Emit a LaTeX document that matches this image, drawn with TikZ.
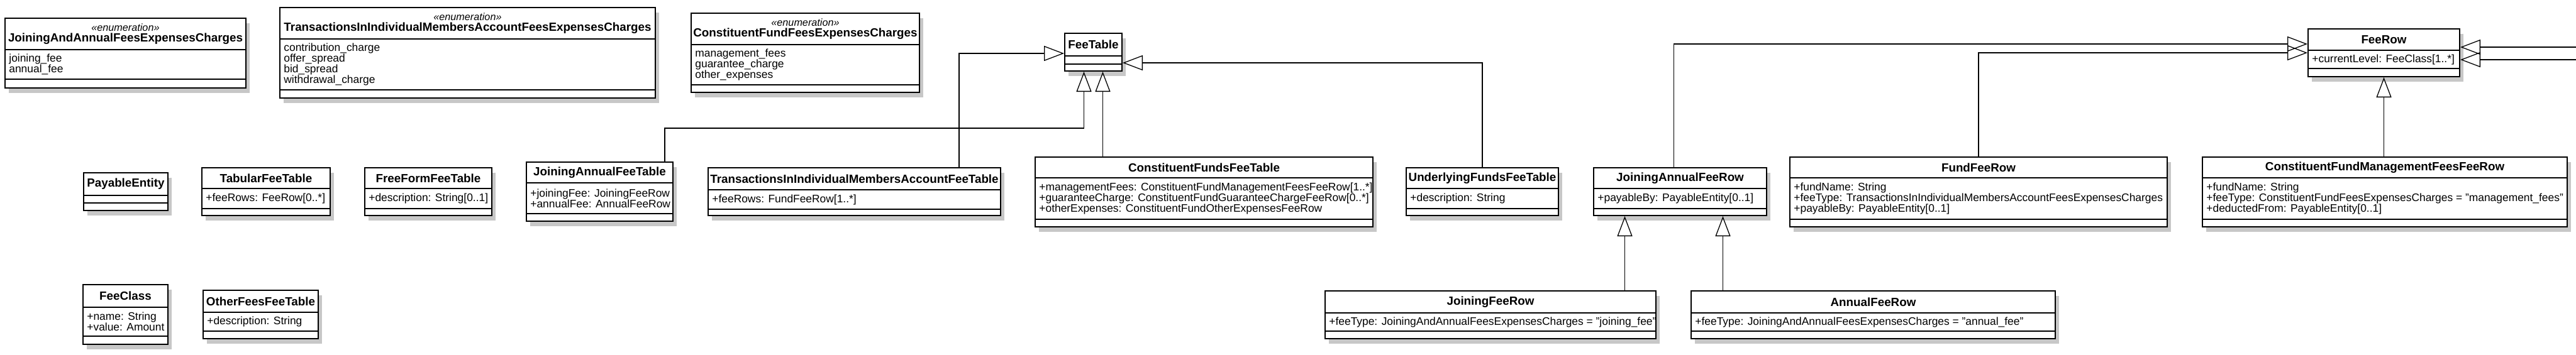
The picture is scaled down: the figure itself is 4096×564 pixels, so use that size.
\documentclass[tikz,border=0pt]{standalone}
\usepackage{fontspec}
\setmainfont{Liberation Sans}
\usetikzlibrary{arrows.meta, calc, fit, shadows}

\tikzset{
  classbox/.style={draw, line width=1pt, inner sep=0pt, fill=white,
    drop shadow={shadow xshift=3pt, shadow yshift=-4pt, fill=black, opacity=0.22}},
  compart/.style={line width=1pt},
  classname/.style={font=\fontsize{9.4pt}{8.5pt}\selectfont\bfseries, align=center, inner sep=0pt},
  classattr/.style={font=\fontsize{8.7pt}{8.35pt}\selectfont, align=left, anchor=west, inner sep=0pt},
  gen/.style={line width=0.65pt, -{Triangle[open, length=16pt, width=12pt]}},
}
\newcommand{\enumtag}{{\fontsize{8.1pt}{8.5pt}\selectfont\mdseries\itshape «enumeration»}}
% #1 name, #2 left, #3 right, #4 top, #5 first rule, #6 second rule, #7 bottom
\newcommand{\umlclass}[9]{%
  \coordinate (#1-nw) at (#2,#4);
  \coordinate (#1-se) at (#3,#7);
  \node[classbox, fit=(#1-nw)(#1-se)] (#1) {};
  \draw[compart] (#2,#5) -- (#3,#5);
  \draw[compart] (#2,#6) -- (#3,#6);
  \node[classname] (#1-title) at ({(#2+#3)/2},{(#4+#5)/2}) {#8};
  \node[classattr] (#1-attr) at ({#2+6},{(#5+#6)/2}) {#9};
}

\begin{document}
\begin{tikzpicture}[x=0.5pt, y=-0.5pt]
\fill[white] (0,0) rectangle (4096,564);
\useasboundingbox (0,0) rectangle (4096,564);

% enumerations
\umlclass{jaafec}{8}{391}{29}{79}{126}{140}{\enumtag\\JoiningAndAnnualFeesExpensesCharges}{joining\_fee\\annual\_fee}
\umlclass{tiimafec}{445}{1042}{12}{62}{143}{156}{\enumtag\\TransactionsInIndividualMembersAccountFeesExpensesCharges}{contribution\_charge\\offer\_spread\\bid\_spread\\withdrawal\_charge}
\umlclass{cffec}{1099}{1462}{21}{71}{135}{147}{\enumtag\\ConstituentFundFeesExpensesCharges}{management\_fees\\guarantee\_charge\\other\_expenses}

% base classes
\umlclass{feetable}{1693}{1784}{53}{89}{102}{113}{FeeTable}{}
\umlclass{feerow}{3670}{3911}{46}{80}{109}{122}{FeeRow}{+currentLevel: FeeClass[1..*]}

% tables
\umlclass{payable}{133}{267}{275}{311}{323}{335}{PayableEntity}{}
\umlclass{tabular}{321}{525}{267}{300}{332}{343}{TabularFeeTable}{+feeRows: FeeRow[0..*]}
\umlclass{freeform}{580}{782}{267}{300}{332}{343}{FreeFormFeeTable}{+description: String[0..1]}
\umlclass{jaft}{837}{1070}{258}{291}{340}{352}{JoiningAnnualFeeTable}{+joiningFee: JoiningFeeRow\\+annualFee: AnnualFeeRow}
\umlclass{tiimaft}{1126}{1591}{267}{302}{333}{343}{TransactionsInIndividualMembersAccountFeeTable}{+feeRows: FundFeeRow[1..*]}
\umlclass{cfft}{1646}{2183}{250}{283}{349}{361}{ConstituentFundsFeeTable}{+managementFees: ConstituentFundManagementFeesFeeRow[1..*]\\+guaranteeCharge: ConstituentFundGuaranteeChargeFeeRow[0..*]\\+otherExpenses: ConstituentFundOtherExpensesFeeRow}
\umlclass{ufft}{2236}{2478}{267}{300}{332}{343}{UnderlyingFundsFeeTable}{+description: String}

% rows
\umlclass{jafr}{2534}{2809}{267}{300}{332}{343}{JoiningAnnualFeeRow}{+payableBy: PayableEntity[0..1]}
\umlclass{ffr}{2846}{3446}{250}{283}{349}{361}{FundFeeRow}{+fundName: String\\+feeType: TransactionsInIndividualMembersAccountFeesExpensesCharges\\+payableBy: PayableEntity[0..1]}
\umlclass{cfmffr}{3502}{4082}{250}{283}{349}{361}{ConstituentFundManagementFeesFeeRow}{+fundName: String\\+feeType: ConstituentFundFeesExpensesCharges = "management\_fees"\\+deductedFrom: PayableEntity[0..1]}
\umlclass{feeclass}{132}{267}{453}{489}{535}{548}{FeeClass}{+name: String\\+value: Amount}
\umlclass{otherfees}{323}{506}{462}{497}{527}{539}{OtherFeesFeeTable}{+description: String}
\umlclass{jfr}{2107}{2633}{463}{498}{527}{539}{JoiningFeeRow}{+feeType: JoiningAndAnnualFeesExpensesCharges = "joining\_fee"}
\umlclass{afr}{2689}{3268}{463}{498}{527}{539}{AnnualFeeRow}{+feeType: JoiningAndAnnualFeesExpensesCharges = "annual\_fee"}

% generalisations to FeeTable
\coordinate (ft-b1) at ($(feetable.south)+(-15,0)$);
\coordinate (ft-b2) at ($(feetable.south)+(15,0)$);
\draw[gen] ($(jaft.north east)+(-14,0)$) |- ($(ft-b1)+(0,90)$) -- (ft-b1);
\draw[gen] ($(tiimaft.north west)+(400,0)$) |- ($(feetable.west)+(0,2)$);
\draw[gen] (cfft.north -| ft-b2) -- (ft-b2);
\draw[gen] (ufft.north) |- ($(feetable.east)+(0,17)$);

% generalisations to FeeRow
\draw[gen] ($(jafr.north)+(-10,0)$) |- ($(feerow.west)+(0,-14)$);
\draw[gen] (ffr.north) |- (feerow.west);
\draw[gen] (cfmffr.north -| feerow.south) -- (feerow.south);
\coordinate (fr-in1) at (4110,75);
\coordinate (fr-in2) at (4110,95);
\draw[gen] (fr-in1) -- (fr-in1 -| feerow.east);
\draw[gen] (fr-in2) -- (fr-in2 -| feerow.east);

% generalisations to JoiningAnnualFeeRow
\coordinate (jafr-b1) at ($(jafr.south)+(-88,0)$);
\coordinate (jafr-b2) at ($(jafr.south)+(68,0)$);
\draw[gen] (jfr.north -| jafr-b1) -- (jafr-b1);
\draw[gen] (afr.north -| jafr-b2) -- (jafr-b2);
\end{tikzpicture}
\end{document}
